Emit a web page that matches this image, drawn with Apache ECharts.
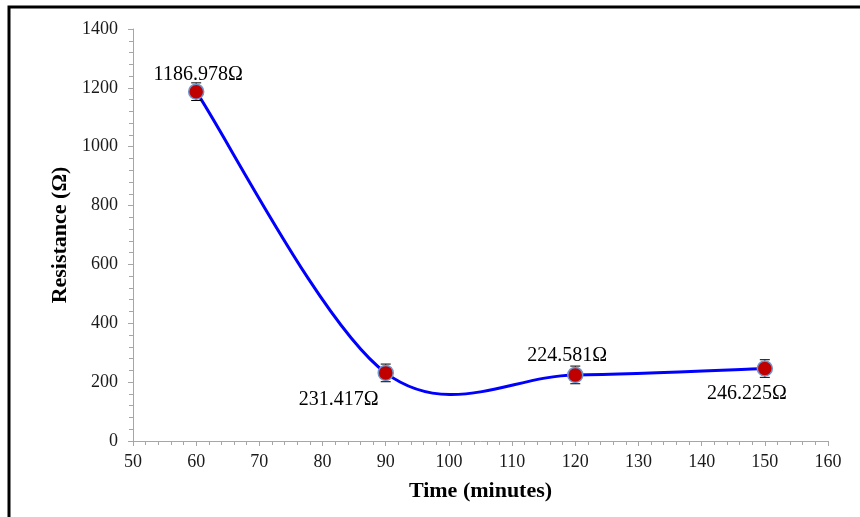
<!DOCTYPE html>
<html>
<head>
<meta charset="utf-8">
<script src="https://cdn.jsdelivr.net/npm/echarts@6/dist/echarts.min.js"></script>
<style>html,body{margin:0;padding:0;background:#fff;}#chart{width:860px;height:517px;}</style>
</head>
<body>
<div id="chart"></div>
<script>
// ---- data ----
var times = [60, 90, 120, 150];
var resistance = [1186.978, 231.417, 224.581, 246.225];
var errors = [30, 30, 30, 30];
var xTicks = [50, 60, 70, 80, 90, 100, 110, 120, 130, 140, 150, 160];
var yTicks = [0, 200, 400, 600, 800, 1000, 1200, 1400];

// label placement (style only)
var labelOffsets = [[2, -17], [-47, 27], [-8, -19], [-18, 25]];

var FONT = 'Liberation Serif';
var points = times.map(function (t, i) { return [t, resistance[i]]; });

var chart = echarts.init(document.getElementById('chart'));

function pt(i) {
  var k = Math.max(0, Math.min(points.length - 1, i));
  return points[k];
}

var tickRich = { s: { fontFamily: FONT, fontSize: 18, color: '#1a1a1a' } };

var option = {
  backgroundColor: '#fff',
  animation: false,
  textStyle: { fontFamily: FONT },
  grid: { left: 133, right: 32, top: 29, bottom: 76, containLabel: false },
  xAxis: {
    type: 'value',
    min: xTicks[0], max: xTicks[xTicks.length - 1], interval: 10,
    name: 'Time (minutes)', nameLocation: 'middle', nameGap: 39,
    nameTextStyle: { fontFamily: FONT, fontWeight: 'bold', fontSize: 22, color: '#000' },
    axisLine: { show: true, onZero: false, lineStyle: { color: '#a6a6a6', width: 1 } },
    axisTick: { show: true, length: 5, lineStyle: { color: '#a6a6a6' } },
    minorTick: { show: true, splitNumber: 5, length: 4, lineStyle: { color: '#a6a6a6' } },
    axisLabel: {
      fontFamily: FONT, fontSize: 18, color: '#1a1a1a', margin: 12,
      rich: tickRich,
      formatter: function (v) { return '{s|' + String(v) + '}'; }
    },
    splitLine: { show: false }
  },
  yAxis: {
    type: 'value',
    min: yTicks[0], max: yTicks[yTicks.length - 1], interval: 200,
    name: 'Resistance (Ω)', nameLocation: 'middle', nameGap: 59,
    nameTextStyle: { fontFamily: FONT, fontWeight: 'bold', fontSize: 22, color: '#000' },
    axisLine: { show: true, lineStyle: { color: '#a6a6a6', width: 1 } },
    axisTick: { show: true, length: 5, lineStyle: { color: '#a6a6a6' } },
    minorTick: { show: true, splitNumber: 5, length: 4, lineStyle: { color: '#a6a6a6' } },
    axisLabel: {
      fontFamily: FONT, fontSize: 18, color: '#1a1a1a', margin: 15,
      rich: tickRich,
      formatter: function (v) { return '{s|' + String(v) + '}'; }
    },
    splitLine: { show: false }
  },
  graphic: [{
    type: 'polyline',
    shape: { points: [[9, 530], [9, 7], [870, 7]] },
    style: { stroke: '#000', lineWidth: 3, fill: null },
    z: 100
  }],
  series: [
    {
      // smooth curve (Excel-style Bezier through data points)
      type: 'custom',
      coordinateSystem: 'cartesian2d',
      data: points.slice(0, points.length - 1),
      z: 2,
      silent: true,
      renderItem: function (params, api) {
        var i = params.dataIndex;
        var p0 = api.coord(pt(i));
        var p1 = api.coord(pt(i + 1));
        var pm = api.coord(pt(i - 1));
        var pp = api.coord(pt(i + 2));
        return {
          type: 'bezierCurve',
          shape: {
            x1: p0[0], y1: p0[1],
            x2: p1[0], y2: p1[1],
            cpx1: p0[0] + (p1[0] - pm[0]) / 6,
            cpy1: p0[1] + (p1[1] - pm[1]) / 6,
            cpx2: p1[0] - (pp[0] - p0[0]) / 6,
            cpy2: p1[1] - (pp[1] - p0[1]) / 6
          },
          style: { stroke: '#0000ff', lineWidth: 3, fill: null }
        };
      }
    },
    {
      // error bars
      type: 'custom',
      coordinateSystem: 'cartesian2d',
      data: points.map(function (p, i) { return [p[0], p[1], errors[i]]; }),
      z: 3,
      silent: true,
      renderItem: function (params, api) {
        var x = api.value(0), y = api.value(1), e = api.value(2);
        var top = api.coord([x, y + e]);
        var bot = api.coord([x, y - e]);
        var hw = 5;
        var st = { stroke: '#000', lineWidth: 1 };
        return {
          type: 'group',
          children: [
            { type: 'line', shape: { x1: top[0], y1: top[1], x2: bot[0], y2: bot[1] }, style: st },
            { type: 'line', shape: { x1: top[0] - hw, y1: top[1], x2: top[0] + hw, y2: top[1] }, style: st },
            { type: 'line', shape: { x1: bot[0] - hw, y1: bot[1], x2: bot[0] + hw, y2: bot[1] }, style: st }
          ]
        };
      }
    },
    {
      type: 'scatter',
      z: 4,
      symbol: 'circle',
      symbolSize: 15,
      itemStyle: { color: '#c00000', borderColor: '#6f96cc', borderWidth: 1.5, opacity: 1 },
      emphasis: { disabled: true },
      data: points.map(function (p, i) {
        return {
          value: p,
          label: { offset: labelOffsets[i] }
        };
      }),
      label: {
        show: true,
        position: 'inside',
        fontFamily: FONT,
        fontSize: 20,
        color: '#000',
        formatter: function (p) { return p.value[1].toFixed(3) + 'Ω'; }
      }
    }
  ]
};

chart.setOption(option);
</script>
</body>
</html>
